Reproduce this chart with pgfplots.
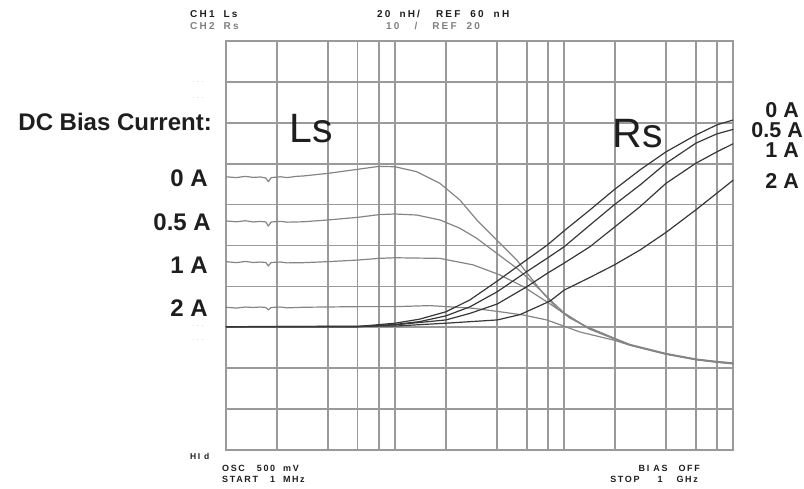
\documentclass[border=0pt]{standalone}
\usepackage{pgfplots}
\pgfplotsset{compat=1.18}
\usepackage{fontspec}
\setmainfont{Liberation Sans}
\newfontfamily\hdr{Liberation Sans}[LetterSpace=22]
\newfontfamily\ftr{Liberation Sans}[LetterSpace=18]
\definecolor{gridc}{HTML}{9A9A9A}
\definecolor{lsc}{HTML}{858585}
\definecolor{rsc}{HTML}{373737}
\definecolor{txt}{HTML}{1E1E1E}
\definecolor{dotc}{HTML}{A0A0A0}
\begin{document}
\begin{tikzpicture}
\useasboundingbox (-226pt,-39pt) rectangle (578pt,450pt);
% ---------------- Ls (20 nH/div, REF 60 nH) ----------------
\begin{axis}[
  at={(0pt,0pt)}, anchor=south west, scale only axis,
  width=507.3pt, height=409pt,
  xmode=log, xmin=1, xmax=1000, ymin=-40, ymax=160,
  xtick={1,2,4,6,8,10,20,40,60,80,100,200,400,600,800,1000},
  ytick={-40,-20,0,20,40,60,80,100,120,140,160},
  minor xtick={}, minor ytick={},
  xticklabels={}, yticklabels={},
  major tick length=0pt,
  grid=major, major grid style={gridc, line width=1.7pt},
  axis line style={gridc, line width=1.7pt},
]
% 0 A
\addplot[lsc, line width=1.2pt, line join=round] coordinates {(1,93.6)(1.15,93.2)(1.3,93.8)(1.45,93.3)(1.6,93.5)(1.72,93.0)(1.78,91.2)(1.85,93.2)(2.1,93.6)(2.3,93.2)(2.6,93.8)(2.87,94.0)(4.03,95.3)(6.06,97.3)(8.03,98.7)(10,98.5)(13.4,96.1)(18.4,90.4)(24.2,82.2)(30.4,72.5)(39.9,62.7)(52.4,52.9)(62.8,44.7)(75.2,36.6)(90.3,29.4)(108,24.5)(136,20.3)(199,14.6)(245,11.6)(400,7.2)(601,4.5)(798,3.3)(1000,2.6)};
% 0.5 A
\addplot[lsc, line width=1.2pt, line join=round] coordinates {(1,72.0)(1.15,71.6)(1.3,72.1)(1.45,71.5)(1.6,71.8)(1.72,71.5)(1.78,69.5)(1.85,71.5)(2.1,71.8)(2.3,71.4)(2.87,71.6)(4.03,72.5)(6.06,73.8)(8.03,75.1)(10,75.4)(13.4,74.9)(18.4,72.5)(24.2,68.4)(30.4,63.5)(39.9,56.2)(52.4,48.9)(62.8,43.1)(80.5,34.3)(100,27.0)(136,20.0)(199,14.4)(245,11.4)(400,7.0)(601,4.3)(798,3.1)(1000,2.4)};
% 1 A
\addplot[lsc, line width=1.2pt, line join=round] coordinates {(1,52.1)(1.15,51.6)(1.3,52.2)(1.45,51.7)(1.6,51.9)(1.72,51.7)(1.78,50.0)(1.85,51.7)(2.1,51.9)(2.3,51.5)(2.87,51.6)(4.03,52.1)(6.06,52.9)(8.03,53.7)(10,54.0)(18.4,53.7)(29.0,50.5)(41.7,45.6)(57.3,39.9)(78.8,32.5)(108,25.0)(142,19.0)(199,14.2)(245,11.3)(400,6.9)(601,4.2)(798,3.0)(1000,2.2)};
% 2 A
\addplot[lsc, line width=1.2pt, line join=round] coordinates {(1,29.8)(1.15,29.4)(1.3,29.9)(1.45,29.7)(1.6,29.9)(1.72,29.7)(1.78,28.5)(1.85,29.7)(2.1,29.9)(2.3,29.5)(2.87,29.8)(6.06,30.1)(10,30.1)(16.1,30.6)(29.0,29.3)(41.7,27.6)(57.3,26.0)(78.8,23.6)(108,19.5)(124,17.7)(199,13.6)(245,11.2)(400,6.8)(601,4.1)(798,2.9)(1000,2.1)};
\end{axis}
% ---------------- Rs (10 /div, REF 20) ----------------
\begin{axis}[
  at={(0pt,0pt)}, anchor=south west, scale only axis,
  width=507.3pt, height=409pt,
  xmode=log, xmin=1, xmax=1000, ymin=-30, ymax=70,
  axis lines=none,
]
% 0 A
\addplot[rsc, line width=1.2pt, line join=round] coordinates {(1,0.15)(6.03,0.2)(10,1.0)(14,2.0)(20,3.8)(27.7,6.7)(40.2,11.3)(60,16.5)(79.4,20.1)(100,23.6)(142,28.7)(197,33.6)(281,38.5)(400,42.9)(600,47.0)(800,49.5)(1000,50.7)};
% 0.5 A
\addplot[rsc, line width=1.2pt, line join=round] coordinates {(1,0.15)(6.03,0.15)(10,0.7)(14,1.4)(20,2.8)(27.7,5.0)(40.2,8.7)(60,13.6)(79.4,16.9)(100,19.7)(142,25.0)(197,29.9)(281,34.8)(400,40.1)(600,45.0)(800,47.3)(1000,48.4)};
% 1 A
\addplot[rsc, line width=1.2pt, line join=round] coordinates {(1,0.15)(6.03,0.15)(10,0.6)(20,1.8)(27.7,3.4)(40.2,5.7)(60,9.9)(79.4,13.2)(100,15.7)(142,19.7)(197,24.4)(281,29.5)(400,35.2)(600,40.1)(800,42.9)(1000,44.9)};
% 2 A
\addplot[rsc, line width=1.2pt, line join=round] coordinates {(1,0.15)(10,0.3)(20,1.0)(40.2,1.8)(54.8,3.1)(82.4,6.4)(100,9.1)(142,12.2)(197,15.2)(281,18.9)(400,23.2)(600,28.7)(800,32.8)(1000,36.0)};
\end{axis}
% ---------------- annotations ----------------
\node[anchor=west, inner sep=0pt, txt] at (-36pt,436pt) {\hdr\bfseries\fontsize{10}{11}\selectfont CH1\hspace{9pt}Ls};
\node[anchor=west, inner sep=0pt, gray] at (-36pt,424pt) {\hdr\bfseries\fontsize{10}{11}\selectfont CH2\hspace{9pt}Rs};
\node[anchor=west, inner sep=0pt, txt] at (151pt,436pt) {\hdr\bfseries\fontsize{10}{11}\selectfont 20\hspace{9pt}nH/\hspace{16pt}REF\hspace{10pt}60\hspace{10pt}nH};
\node[anchor=west, inner sep=0pt, gray] at (160pt,424pt) {\hdr\bfseries\fontsize{10}{11}\selectfont 10\hspace{15pt}/\hspace{15pt}REF\hspace{10pt}20};
\node[anchor=west, inner sep=0pt, txt] at (-36pt,-6pt) {\ftr\bfseries\fontsize{8.5}{9}\selectfont HI d};
\node[anchor=west, inner sep=0pt, txt] at (-4pt,-18pt) {\ftr\bfseries\fontsize{9}{10}\selectfont OSC\hspace{12pt}500\hspace{8pt}mV};
\node[anchor=west, inner sep=0pt, txt] at (-4pt,-29pt) {\ftr\bfseries\fontsize{9}{10}\selectfont START\hspace{12pt}1\hspace{8pt}MHz};
\node[anchor=east, inner sep=0pt, txt] at (474pt,-18pt) {\ftr\bfseries\fontsize{9}{10}\selectfont BI AS\hspace{11pt}OFF};
\node[anchor=east, inner sep=0pt, txt] at (472pt,-29pt) {\ftr\bfseries\fontsize{9}{10}\selectfont STOP\hspace{18pt}1\hspace{14pt}GHz};
% big labels
\node[anchor=east, inner sep=0pt, txt] at (-14pt,328pt) {\bfseries\fontsize{24}{26}\selectfont DC Bias Current:};
\node[anchor=east, inner sep=0pt, txt] at (-18pt,272pt) {\bfseries\fontsize{24}{26}\selectfont 0 A};
\node[anchor=east, inner sep=0pt, txt] at (-15pt,228pt) {\bfseries\fontsize{24}{26}\selectfont 0.5 A};
\node[anchor=east, inner sep=0pt, txt] at (-18pt,185pt) {\bfseries\fontsize{24}{26}\selectfont 1 A};
\node[anchor=east, inner sep=0pt, txt] at (-18pt,142pt) {\bfseries\fontsize{24}{26}\selectfont 2 A};
\node[anchor=east, inner sep=0pt, txt] at (573pt,340pt) {\bfseries\fontsize{21.5}{23}\selectfont 0 A};
\node[anchor=east, inner sep=0pt, txt] at (577pt,320pt) {\bfseries\fontsize{21.5}{23}\selectfont 0.5 A};
\node[anchor=east, inner sep=0pt, txt] at (573pt,299.5pt) {\bfseries\fontsize{21.5}{23}\selectfont 1 A};
\node[anchor=east, inner sep=0pt, txt] at (573pt,269pt) {\bfseries\fontsize{21.5}{23}\selectfont 2 A};
\node[inner sep=0pt, txt] at (85pt,321pt) {\fontsize{41}{43}\selectfont Ls};
\node[inner sep=0pt, txt] at (412pt,316pt) {\fontsize{41}{43}\selectfont Rs};
% reference markers
\foreach \yy in {368,352,124,110}{\node[inner sep=0pt, dotc] at (-28pt,\yy pt) {\fontsize{6}{6}\selectfont .\hspace{3pt}.\hspace{3pt}.};}
\end{tikzpicture}
\end{document}
